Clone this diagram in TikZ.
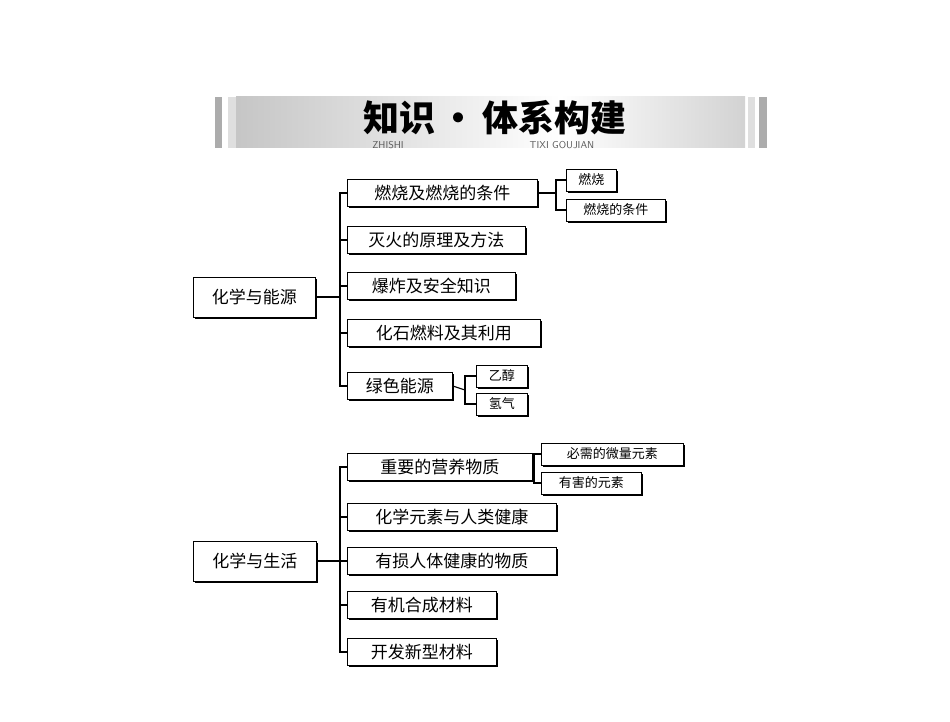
\documentclass[tikz,border=0pt]{standalone}
\usepackage{fontspec}
\newfontfamily\cjk{Noto Sans CJK SC}
\usetikzlibrary{shadows}
\begin{document}
\begin{tikzpicture}[x=1pt,y=-1pt,
 bx/.style={draw,line width=0.9pt,fill=white,inner sep=2pt,anchor=west,font=\cjk\fontsize{17}{17}\selectfont,minimum height=27pt,
   drop shadow={shadow xshift=1.6pt,shadow yshift=-1.6pt,fill=black,opacity=1}},
 sb/.style={bx,font=\cjk\fontsize{13}{13}\selectfont,minimum height=22pt,inner sep=2pt},
 rt/.style={bx,minimum height=40pt,inner sep=5pt},
 ln/.style={line width=1.1pt}]
\useasboundingbox (0,0) rectangle (950,722);
% header
\fill[gray!65] (215,97) rectangle (222,148);
\fill[gray!25] (228,97) rectangle (236,148);
\shade[left color=gray!45,right color=white] (236,97) rectangle (560,148);
\shade[left color=white,right color=gray!35] (560,97) rectangle (745,148);
\fill[gray!25] (748,97) rectangle (755,148);
\fill[gray!65] (759,97) rectangle (767,148);
\node[font=\cjk\bfseries\fontsize{36}{36}\selectfont] (title) at (495,118) {知识\,·\,体系构建};
\node[font=\sffamily\fontsize{10}{10}\selectfont,text=gray!70!black] (z1) at (388,145) {ZHISHI};
\node[font=\sffamily\fontsize{10}{10}\selectfont,text=gray!70!black] (z2) at (562,145) {TIXI GOUJIAN};
% group 1
\node[rt,minimum width=122pt] (r1) at (193,297) {化学与能源};
\draw[ln] (r1.east) -- (340,297) coordinate (j1);
\node[bx,minimum width=190pt] (a1) at (347,193) {燃烧及燃烧的条件};
\node[bx,minimum width=178pt] (a2) at (347,240) {灭火的原理及方法};
\node[bx,minimum width=168pt] (a3) at (347,286) {爆炸及安全知识};
\node[bx,minimum width=193pt] (a4) at (347,333) {化石燃料及其利用};
\node[bx,minimum width=105pt] (a5) at (347,386) {绿色能源};
\foreach \n in {a1,a2,a3,a4,a5} \draw[ln] (\n.west) -| (j1);
\node[sb,minimum width=50pt] (b1) at (566,180) {燃烧};
\node[sb,minimum width=99pt] (b2) at (566,210) {燃烧的条件};
\draw[ln] (a1.east) -- (556,193) coordinate (j2);
\foreach \n in {b1,b2} \draw[ln] (\n.west) -| (j2);
\node[sb,minimum width=51pt] (c1) at (476,376) {乙醇};
\node[sb,minimum width=51pt] (c2) at (476,404) {氢气};
\draw[ln] (a5.east) -- (465,390) coordinate (j3);
\foreach \n in {c1,c2} \draw[ln] (\n.west) -| (j3);
% group 2
\node[rt,minimum width=123pt] (r2) at (193,561) {化学与生活};
\draw[ln] (r2.east) -- (340,561) coordinate (k1);
\node[bx,minimum width=185pt] (d1) at (347,467) {重要的营养物质};
\node[bx,minimum width=209pt] (d2) at (347,517) {化学元素与人类健康};
\node[bx,minimum width=209pt] (d3) at (347,561) {有损人体健康的物质};
\node[bx,minimum width=149pt] (d4) at (347,605) {有机合成材料};
\node[bx,minimum width=149pt] (d5) at (347,652) {开发新型材料};
\foreach \n in {d1,d2,d3,d4,d5} \draw[ln] (\n.west) -| (k1);
\node[sb,minimum width=142pt] (e1) at (541,454) {必需的微量元素};
\node[sb,minimum width=100pt] (e2) at (541,483) {有害的元素};
\draw[ln] (d1.east) -- (534,467) coordinate (k2);
\foreach \n in {e1,e2} \draw[ln] (\n.west) -| (k2);
\end{tikzpicture}
\end{document}
